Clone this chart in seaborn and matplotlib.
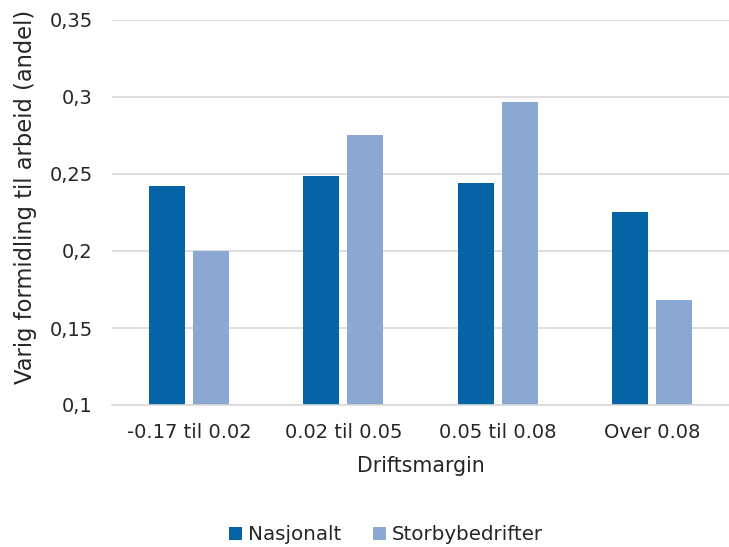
import matplotlib
matplotlib.use("Agg")
import matplotlib.pyplot as plt
import seaborn as sns
import pandas as pd

categories = ["-0.17 til 0.02", "0.02 til 0.05", "0.05 til 0.08", "Over 0.08"]
nasjonalt = [0.242, 0.249, 0.244, 0.225]
storby = [0.200, 0.275, 0.297, 0.168]
series = ["Nasjonalt", "Storbybedrifter"]
yticks = [0.1, 0.15, 0.2, 0.25, 0.3, 0.35]
ytick_labels = ["0,1", "0,15", "0,2", "0,25", "0,3", "0,35"]

df = pd.DataFrame({
    "cat": categories * 2,
    "val": nasjonalt + storby,
    "serie": [series[0]] * 4 + [series[1]] * 4,
})

sns.set_theme(style="white")
plt.rcParams["font.family"] = ["DejaVu Sans"]

fig = plt.figure(figsize=(7.29, 5.47), dpi=100)
ax = fig.add_axes([112 / 729, 1 - 405 / 547, (729 - 112) / 729, (405 - 20) / 547])

sns.barplot(data=df, x="cat", y="val", hue="serie", ax=ax,
            palette=["#0563A6", "#8AA8D2"], width=0.57, gap=0.18,
            saturation=1, edgecolor="none")

fs = 14
ax.set_ylim(0.1, 0.35)
ax.set_yticks(yticks)
ax.set_yticklabels(ytick_labels, fontsize=fs, color="#262626")
ax.tick_params(axis="x", labelsize=fs, colors="#262626", length=0, pad=13)
ax.tick_params(axis="y", length=0, pad=14)
ax.yaxis.grid(True, color="#D9D9D9", linewidth=1.2)
ax.set_axisbelow(True)
for s in ["left", "right", "top"]:
    ax.spines[s].set_visible(False)
ax.spines["bottom"].set_color("#D9D9D9")
ax.spines["bottom"].set_linewidth(1.2)

ax.set_xlabel("Driftsmargin", fontsize=14.8, color="#262626", labelpad=10)
ax.set_ylabel("Varig formidling til arbeid (andel)", fontsize=16.3, color="#262626", labelpad=9)
ax.yaxis.label.set_position((0, 0.54))

leg = ax.legend(loc="center", bbox_to_anchor=(386 / 729, 12 / 547),
                bbox_transform=fig.transFigure,
                ncol=2, frameon=False, fontsize=14.3, handlelength=0.65, handleheight=0.65,
                columnspacing=1.6, handletextpad=0.3)
for t in leg.get_texts():
    t.set_color("#262626")

fig.savefig("out.png", dpi=100)
